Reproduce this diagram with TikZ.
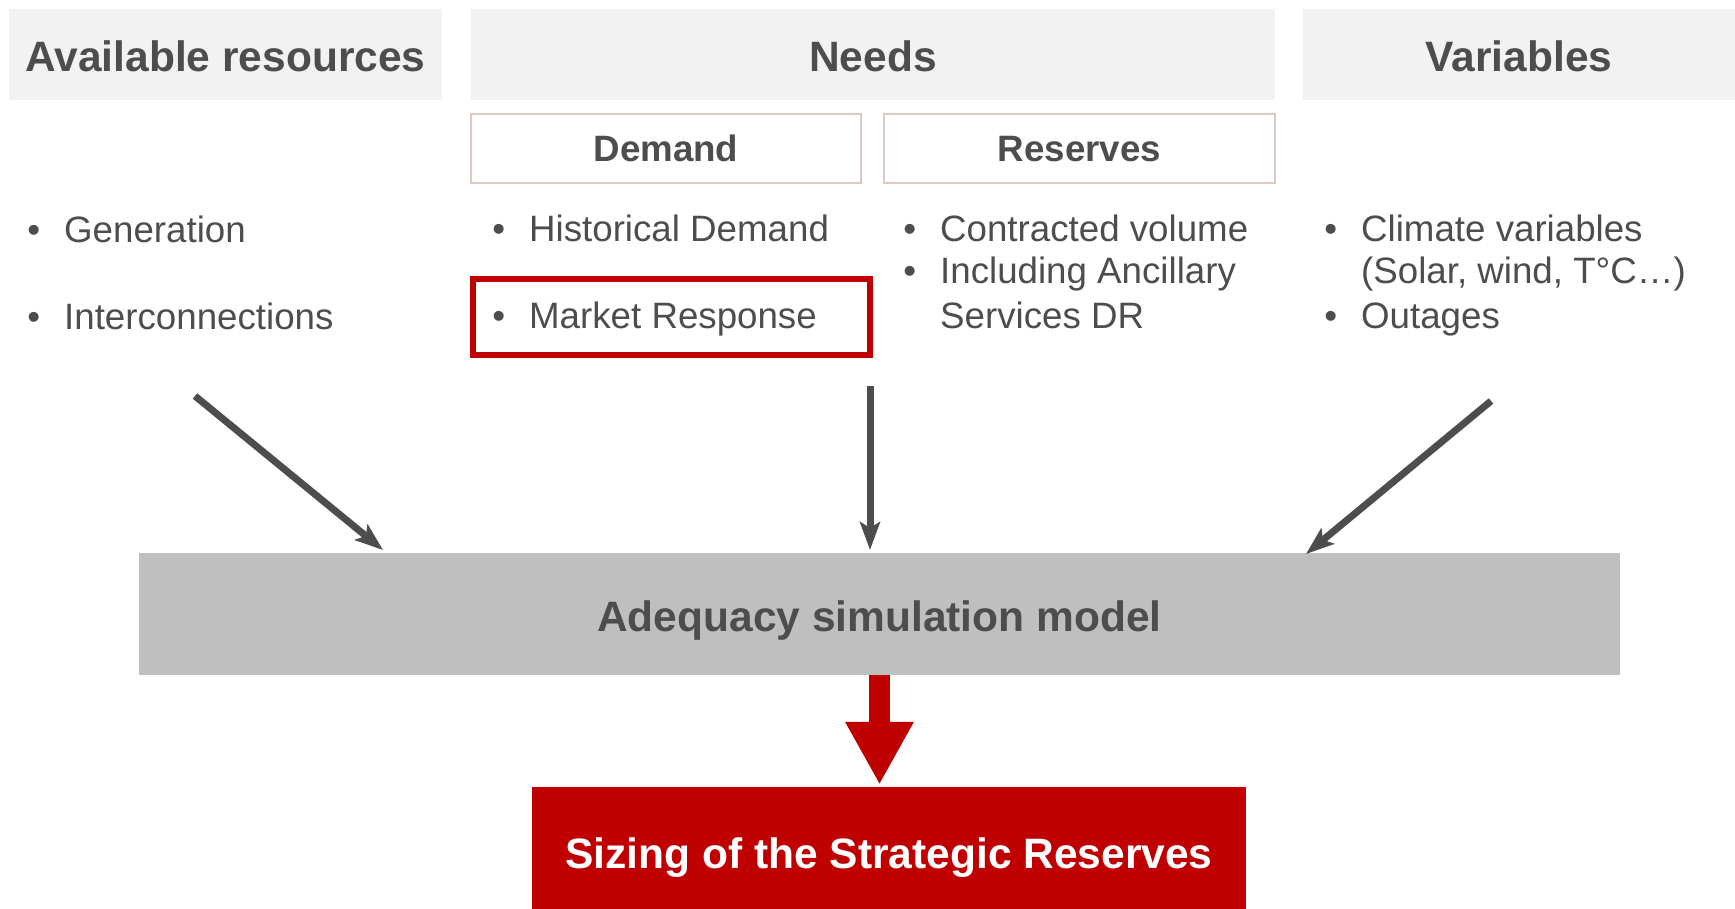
\documentclass[tikz,border=0pt]{standalone}
\usepackage{fontspec}
\setmainfont{Liberation Sans}
\usetikzlibrary{arrows.meta}
\definecolor{txt}{HTML}{4D4D4D}
\definecolor{hdrfill}{HTML}{F2F2F2}
\definecolor{subline}{HTML}{DCC8C4}
\definecolor{adefill}{HTML}{BFBFBF}
\definecolor{redc}{HTML}{C00000}
\newcommand{\bigfont}{\fontsize{42.5}{50}\selectfont}
\newcommand{\smallfont}{\fontsize{36.7}{44}\selectfont}
\newcommand{\bul}{\llap{•\hspace{24pt}}}
\tikzset{
  hdr/.style={fill=hdrfill, draw=none, inner sep=0pt, minimum height=91pt,
    text=txt, font=\bigfont\bfseries, text height=33pt, text depth=0pt},
  subhdr/.style={draw=subline, line width=2pt, fill=white, inner sep=0pt,
    minimum height=69pt, text=txt, font=\smallfont\bfseries, text height=25pt, text depth=0pt},
  item/.style={anchor=base west, inner sep=0pt, text=txt, font=\smallfont},
  hl/.style={draw=redc, line width=6pt, inner sep=0pt},
  adebox/.style={fill=adefill, draw=none, inner sep=0pt, text=txt,
    font=\bigfont\bfseries, text height=34pt, text depth=0pt},
  sizebox/.style={fill=redc, draw=none, inner sep=0pt, text=white,
    font=\bigfont\bfseries, text height=29pt, text depth=0pt},
  grayarrow/.style={draw=txt, line width=7pt,
    -{Stealth[length=28pt, width=20pt, inset=6pt]}},
  redarrow/.style={draw=redc, line width=21pt,
    -{Triangle[length=63pt, width=64pt]}}
}
\begin{document}
\begin{tikzpicture}[x=1pt,y=-1pt]
\useasboundingbox (0,0) rectangle (1735,908);
% headers
\node[hdr, minimum width=433pt] (avail) at (225.5,54.5) {Available resources};
\node[hdr, minimum width=804pt] (needs) at (873,54.5) {Needs};
\node[hdr, minimum width=432pt] (vars) at (1519,54.5) {Variables};
% sub headers
\node[subhdr, minimum width=390pt] (demand) at (666,148.5) {Demand};
\node[subhdr, minimum width=391pt] (reserves) at (1079.5,148.5) {Reserves};
% available resources items
\node[item] (gen) at (64,242) {\bul Generation};
\node[item] (inter) at (64,329) {\bul Interconnections};
% demand items
\node[item] (hist) at (529,241) {\bul Historical Demand};
\node[item] (market) at (529,328) {\bul Market Response};
\node[hl, minimum width=397pt, minimum height=76pt] (hlbox) at (671,316.5) {};
% reserves items
\node[item] (contr) at (940,241) {\bul Contracted volume};
\node[item] (incl) at (940,283) {\bul Including Ancillary};
\node[item] (serv) at (940,328) {Services DR};
% variables items
\node[item] (clim) at (1361,241) {\bul Climate variables};
\node[item] (solar) at (1361,283) {(Solar, wind, T°C…)};
\node[item] (outag) at (1361,328) {\bul Outages};
% model and result
\node[adebox, minimum width=1481pt, minimum height=122pt] (ade) at (879.5,614) {Adequacy simulation model};
\node[sizebox, minimum width=714pt, minimum height=133pt] (size) at (889,853.5) {Sizing of the Strategic Reserves};
% arrows
\coordinate (s1) at (195,396);
\coordinate (t1) at (383,550);
\coordinate (s2) at (870,386);
\coordinate (t2) at (870,550);
\coordinate (s3) at (1491,401);
\coordinate (t3) at (1306,554);
\draw[grayarrow] (s1) -- (t1);
\draw[grayarrow] (s2) -- (t2);
\draw[grayarrow] (s3) -- (t3);
\draw[redarrow, shorten >=2pt] (ade.south) -- (ade.south |- size.north);
\end{tikzpicture}
\end{document}
